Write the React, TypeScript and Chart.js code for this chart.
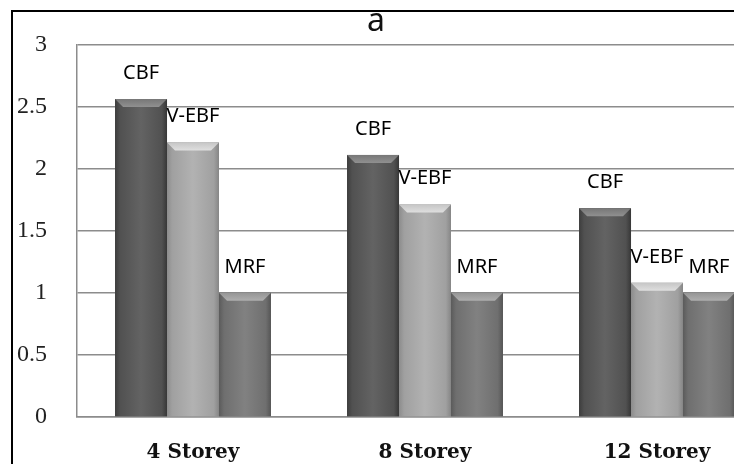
import React, { useEffect, useRef } from "react";
import { Chart, registerables } from "chart.js";

Chart.register(...registerables);

const categories = ["4 Storey", "8 Storey", "12 Storey"];
const seriesNames = ["CBF", "V-EBF", "MRF"];
const cbfValues = [2.56, 2.11, 1.68];
const vebfValues = [2.21, 1.71, 1.08];
const mrfValues = [1.0, 1.0, 1.0];
const yTickLabels = ["0", "0.5", "1", "1.5", "2", "2.5", "3"];
const chartTitle = "a";
const seriesColors = ["#595959", "#a8a8a8", "#777777"];

function shade(hex: string, amt: number): string {
  const n = parseInt(hex.slice(1), 16);
  const c = (v: number) => Math.max(0, Math.min(255, v + amt));
  const r = c((n >> 16) & 255);
  const g = c((n >> 8) & 255);
  const b = c(n & 255);
  return `rgb(${r},${g},${b})`;
}

const bevelPlugin = {
  id: "bevel",
  afterDatasetsDraw(chart: any) {
    const ctx = chart.ctx;
    ctx.save();
    chart.data.datasets.forEach((_ds: any, di: number) => {
      const meta = chart.getDatasetMeta(di);
      const col = seriesColors[di];
      meta.data.forEach((el: any) => {
        const { x, y, width, base } = el.getProps(["x", "y", "width", "base"], true);
        const l = x - width / 2;
        const r = x + width / 2;
        const g = ctx.createLinearGradient(l, 0, r, 0);
        g.addColorStop(0, shade(col, -28));
        g.addColorStop(0.1, shade(col, -8));
        g.addColorStop(0.5, shade(col, 10));
        g.addColorStop(0.9, shade(col, -8));
        g.addColorStop(1, shade(col, -34));
        ctx.fillStyle = g;
        ctx.fillRect(l, y, width, base - y);
        const bv = 8;
        const tg = ctx.createLinearGradient(0, y, 0, y + bv);
        tg.addColorStop(0, shade(col, 30));
        tg.addColorStop(1, shade(col, 55));
        ctx.beginPath();
        ctx.moveTo(l, y);
        ctx.lineTo(r, y);
        ctx.lineTo(r - bv, y + bv);
        ctx.lineTo(l + bv, y + bv);
        ctx.closePath();
        ctx.fillStyle = tg;
        ctx.fill();
      });
    });
    ctx.restore();
  },
};

const labelPlugin = {
  id: "barLabels",
  afterDatasetsDraw(chart: any) {
    const ctx = chart.ctx;
    ctx.save();
    ctx.font = '20px "Noto Sans"';
    ctx.fillStyle = "#000";
    ctx.textAlign = "center";
    ctx.textBaseline = "middle";
    chart.data.datasets.forEach((ds: any, di: number) => {
      const meta = chart.getDatasetMeta(di);
      meta.data.forEach((el: any) => {
        ctx.fillText(ds.label, el.x, el.y - 26);
      });
    });
    ctx.restore();
  },
};

const titlePlugin = {
  id: "topTitle",
  afterDraw(chart: any) {
    const ctx = chart.ctx;
    ctx.save();
    ctx.font = '32px "Noto Sans"';
    ctx.fillStyle = "#111";
    ctx.textAlign = "center";
    ctx.textBaseline = "middle";
    ctx.fillText(chartTitle, 376, 22);
    ctx.restore();
  },
};

export default function App() {
  const ref = useRef<HTMLCanvasElement>(null);
  useEffect(() => {
    if (!ref.current) return;
    const chart = new Chart(ref.current, {
      type: "bar",
      data: {
        labels: categories,
        datasets: [
          { label: seriesNames[0], data: cbfValues, backgroundColor: seriesColors[0] },
          { label: seriesNames[1], data: vebfValues, backgroundColor: seriesColors[1] },
          { label: seriesNames[2], data: mrfValues, backgroundColor: seriesColors[2] },
        ],
      },
      options: {
        responsive: false,
        animation: false,
        devicePixelRatio: 1,
        layout: { padding: { left: 0, right: 27, top: 43, bottom: 0 } },
        datasets: {
          bar: { categoryPercentage: 0.672, barPercentage: 1.0 },
        },
        plugins: {
          legend: { display: false },
          tooltip: { enabled: false },
          title: { display: false },
        },
        scales: {
          x: {
            grid: { display: false, drawTicks: false },
            border: { display: true, color: "#8c8c8c", width: 1.5 },
            ticks: {
              padding: 24,
              color: "#111",
              font: { family: '"DejaVu Serif"', size: 20, weight: "bold" },
            },
            afterFit: (s: any) => {
              s.height = 47;
            },
          },
          y: {
            min: 0,
            max: 3,
            ticks: {
              stepSize: 0.5,
              padding: 30,
              color: "#222",
              font: { family: '"Liberation Serif"', size: 24 },
              callback: (_v: any, i: number) => yTickLabels[i],
            },
            grid: { color: "#8c8c8c", lineWidth: 1.5, drawTicks: false },
            border: { display: true, color: "#8c8c8c", width: 1.5 },
            afterFit: (s: any) => {
              s.width = 77;
            },
          },
        },
      },
      plugins: [bevelPlugin, labelPlugin, titlePlugin],
    });
    return () => chart.destroy();
  }, []);

  return (
    <div
      style={{
        position: "absolute",
        left: 0,
        top: 0,
        width: 734,
        height: 464,
        overflow: "hidden",
        background: "#fff",
      }}
    >
      <canvas ref={ref} width={800} height={464} style={{ position: "absolute", left: 0, top: 0 }} />
      <div
        style={{
          position: "absolute",
          left: 11,
          top: 10,
          width: 800,
          height: 500,
          borderLeft: "2px solid #000",
          borderTop: "2px solid #000",
          pointerEvents: "none",
        }}
      />
    </div>
  );
}
